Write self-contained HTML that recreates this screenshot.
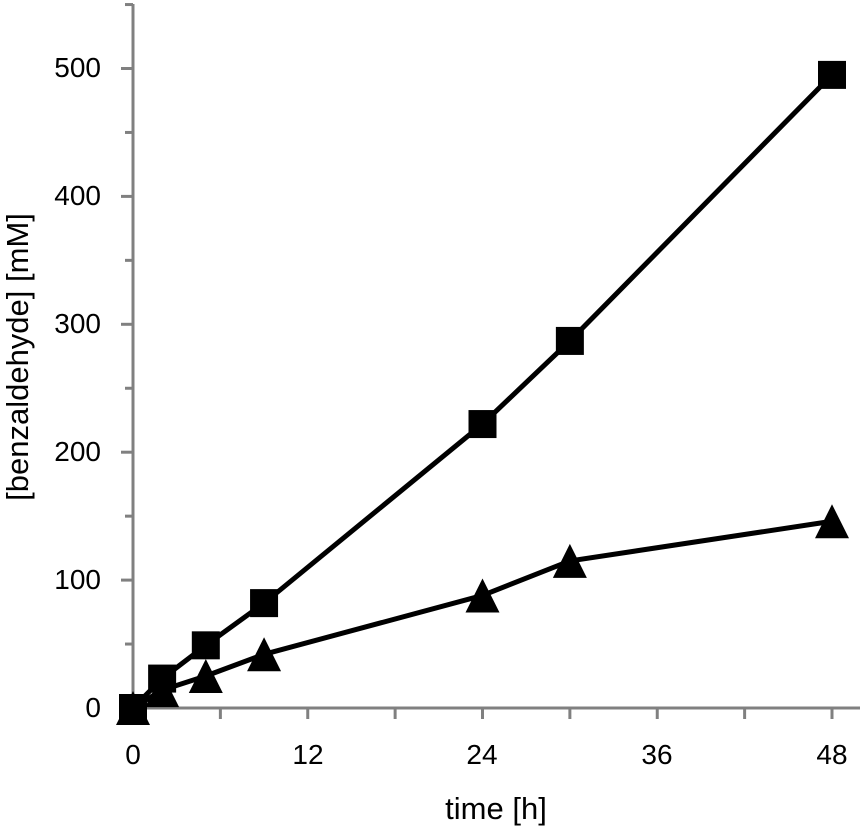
<!DOCTYPE html>
<html><head><meta charset="utf-8"><style>
body{margin:0;background:#fff}
#wrap{position:relative;width:864px;height:828px}
svg{position:absolute;left:0;top:0}
svg text{font-family:"Liberation Sans",sans-serif;fill:#000}
.yl,.xl{position:absolute;font-family:"Liberation Sans",sans-serif;font-size:28px;line-height:32px;color:#000;white-space:nowrap}
.yl{right:763px;text-align:right}
.xl{width:80px;margin-left:-40px;text-align:center}
</style></head><body>
<div id="wrap">
<svg id="chart" width="864" height="828" xmlns="http://www.w3.org/2000/svg">
<g id="axes"></g>
<g id="series"></g>
<text x="496" y="819" text-anchor="middle" style="font-size:31px">time [h]</text>
<text transform="translate(28,357) rotate(-90)" text-anchor="middle" style="font-size:31px">[benzaldehyde] [mM]</text>
</svg>
<div class="yl" style="top:692px">0</div>
<div class="yl" style="top:564px">100</div>
<div class="yl" style="top:436px">200</div>
<div class="yl" style="top:308px">300</div>
<div class="yl" style="top:180px">400</div>
<div class="yl" style="top:52px">500</div>
<div class="xl" style="left:133px;top:739px">0</div>
<div class="xl" style="left:308px;top:739px">12</div>
<div class="xl" style="left:482px;top:739px">24</div>
<div class="xl" style="left:657px;top:739px">36</div>
<div class="xl" style="left:832px;top:739px">48</div>
</div>
<script>
const times=[0,2,5,9,24,30,48];
const squareValues=[0,23,49,82,222,287,495];
const triangleValues=[0,14,25,42,88,115,146];
const xTicks=[0,12,24,36,48];
const yTicks=[0,100,200,300,400,500];
const NS='http://www.w3.org/2000/svg';
const X0=133,X1=832,Y0=708,Y1=68.5;
function sx(t){return X0+(t/48)*(X1-X0);}
function sy(v){return Y0-(v/500)*(Y0-Y1);}
function mk(tag,attrs,parent){const e=document.createElementNS(NS,tag);for(const k in attrs)e.setAttribute(k,attrs[k]);parent.appendChild(e);return e;}
const axes=document.getElementById('axes');
const gc='#808080';
let a=mk('line',{x1:X0,y1:4,x2:X0,y2:Y0,stroke:gc,'stroke-width':3},axes);


a=mk('line',{x1:X0,y1:Y0,x2:860,y2:Y0,stroke:gc,'stroke-width':3},axes);


for(let v=50;v<=550;v+=100){const t=mk('line',{x1:X0-8,y1:sy(v),x2:X0,y2:sy(v),stroke:gc,'stroke-width':3},axes);

}
yTicks.forEach(v=>{const t=mk('line',{x1:X0-12,y1:sy(v),x2:X0,y2:sy(v),stroke:gc,'stroke-width':3},axes);

});
for(let h=6;h<=48;h+=6){const t=mk('line',{x1:sx(h),y1:Y0,x2:sx(h),y2:Y0+11,stroke:gc,'stroke-width':3},axes);

}
const ser=document.getElementById('series');
function line(vals,name){const p=mk('polyline',{points:times.map((t,i)=>sx(t)+','+sy(vals[i])).join(' '),fill:'none',stroke:'#000','stroke-width':5,'stroke-linejoin':'round'},ser);

}
line(squareValues,'square-series-line');
line(triangleValues,'triangle-series-line');
times.forEach((t,i)=>{const x=sx(t),y=sy(triangleValues[i]);
const m=mk('polygon',{points:`${x},${y-17} ${x+17},${y+17} ${x-17},${y+17}`,fill:'#000'},ser);

});
times.forEach((t,i)=>{const x=sx(t),y=sy(squareValues[i]);
const m=mk('rect',{x:x-14,y:y-14,width:28,height:28,fill:'#000'},ser);

});
</script>
</body></html>
